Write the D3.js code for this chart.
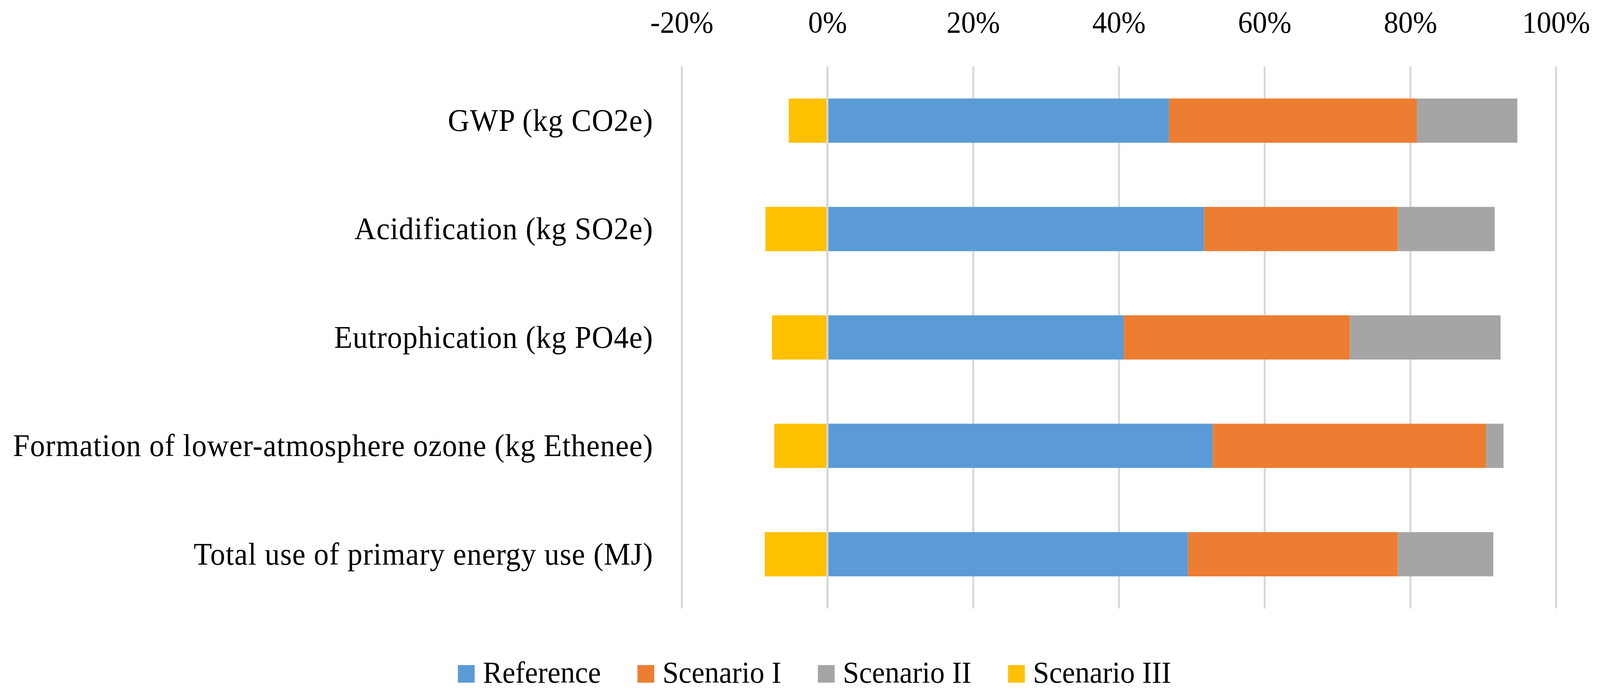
<!DOCTYPE html>
<html>
<head>
<meta charset="utf-8">
<script src="https://cdn.jsdelivr.net/npm/d3@7"></script>
<style>
  html, body { margin: 0; padding: 0; background: #fff; overflow: hidden; }
  svg { display: block; }
  text { font-family: "Liberation Serif", "DejaVu Serif", serif; fill: #000; }
</style>
</head>
<body>
<script>
// values (share of reference total)
const categories = [
  "GWP (kg CO2e)",
  "Acidification (kg SO2e)",
  "Eutrophication (kg PO4e)",
  "Formation of lower-atmosphere ozone (kg Ethenee)",
  "Total use of primary energy use (MJ)"
]
const seriesNames = ["Reference", "Scenario I", "Scenario II", "Scenario III"]
const reference   = [0.469, 0.517, 0.407, 0.529, 0.495]
const scenarioI   = [0.340, 0.266, 0.310, 0.375, 0.288]
const scenarioII  = [0.138, 0.133, 0.207, 0.024, 0.131]
const scenarioIII = [-0.053, -0.085, -0.076, -0.073, -0.086]
const tickValues  = [-0.2, 0, 0.2, 0.4, 0.6, 0.8, 1.0]
const colors      = ["#5B9BD5", "#ED7D31", "#A5A5A5", "#FFC000"]

const W = 4286, H = 1776
const plot = { left: 1826, right: 4168, top: 170, bottom: 1557 }
const fontSize = 78

const rows = categories.map((c, i) => ({
  category: c,
  "Reference": reference[i],
  "Scenario I": scenarioI[i],
  "Scenario II": scenarioII[i],
  "Scenario III": scenarioIII[i]
}))

const stacked = d3.stack()
  .keys(seriesNames)
  .offset(d3.stackOffsetDiverging)(rows)

const x = d3.scaleLinear().domain([-0.2, 1.0]).range([plot.left, plot.right])
const y = d3.scaleBand().domain(categories).range([plot.top, plot.bottom])
  .paddingInner(0.592).paddingOuter(0.296)

const locale = d3.formatLocale({ decimal: ".", thousands: ",", grouping: [3], currency: ["", ""], minus: "-" })
const pct = locale.format(".0%")

// the window can be narrower than W, so stretch the drawing to fill it
const svg = d3.select("body").append("svg")
  .attr("viewBox", "0 0 " + W + " " + H)
  .attr("preserveAspectRatio", "none")
  .style("width", "100vw")
  .style("height", "100vh")

svg.append("rect").attr("width", W).attr("height", H).attr("fill", "#fff")

// vertical gridlines
const grid = svg.append("g")
  .attr("transform", "translate(0," + plot.bottom + ")")
  .call(d3.axisBottom(x).tickValues(tickValues).tickSize(-(plot.bottom - plot.top)).tickFormat(""))
grid.select(".domain").remove()
grid.selectAll("line").attr("stroke", "#d9d9d9").attr("stroke-width", 5.5)

// tick labels at the top
const xAxis = svg.append("g")
  .attr("transform", "translate(0,83)")
  .call(d3.axisTop(x).tickValues(tickValues).tickSize(0).tickPadding(0).tickFormat(pct))
xAxis.select(".domain").remove()
xAxis.selectAll("text")
  .attr("font-family", "Liberation Serif")
  .attr("font-size", fontSize)
  .attr("fill", "#000")

// bars
svg.append("g")
  .selectAll("g")
  .data(stacked)
  .enter()
  .append("g")
  .attr("fill", (d, i) => colors[i])
  .selectAll("rect")
  .data(d => d)
  .enter()
  .append("rect")
  .attr("x", d => x(Math.min(d[0], d[1])))
  .attr("width", d => Math.abs(x(d[1]) - x(d[0])))
  .attr("y", d => y(d.data.category))
  .attr("height", y.bandwidth())

// category axis line at zero, over the bars
svg.append("line")
  .attr("x1", x(0)).attr("x2", x(0))
  .attr("y1", plot.top).attr("y2", plot.bottom)
  .attr("stroke", "#d9d9d9")
  .attr("stroke-width", 5.5)

// category labels
svg.append("g")
  .selectAll("text")
  .data(categories)
  .enter()
  .append("text")
  .attr("x", 1750)
  .attr("y", d => y(d) + y.bandwidth() / 2)
  .attr("dy", "0.33em")
  .attr("text-anchor", "end")
  .attr("font-size", 80)
  .attr("letter-spacing", 1.2)
  .text(d => d)

// legend
const legend = svg.append("g")
const items = legend.selectAll("g")
  .data(seriesNames)
  .enter()
  .append("g")
items.append("rect")
  .attr("y", 1702)
  .attr("width", 45)
  .attr("height", 45)
  .attr("fill", (d, i) => colors[i])
items.append("text")
  .attr("x", 67)
  .attr("y", 1747)
  .attr("font-size", fontSize)
  .text(d => d)

const widths = []
items.each(function () {
  widths.push(67 + this.querySelector("text").getComputedTextLength())
})
const gap = 98
const total = d3.sum(widths) + gap * (widths.length - 1)
let cursor = 2182 - total / 2
items.attr("transform", (d, i) => {
  const t = "translate(" + cursor + ",0)"
  cursor += widths[i] + gap
  return t
})
</script>
</body>
</html>
